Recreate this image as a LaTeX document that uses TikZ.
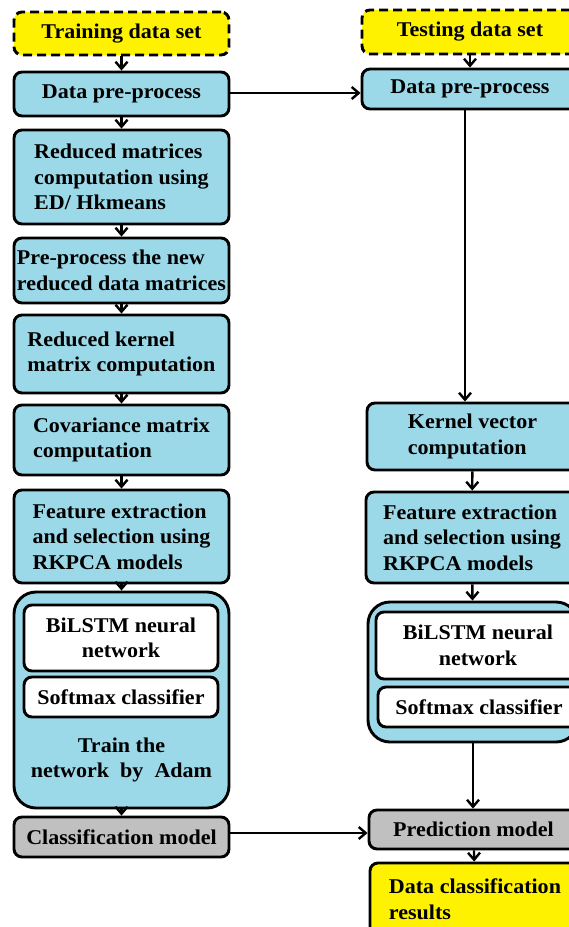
\documentclass[tikz,border=0pt]{standalone}
\usepackage{fontspec}
\setmainfont{Liberation Serif}[FakeStretch=1.05]
\usetikzlibrary{arrows.meta, positioning}

\definecolor{procblue}{RGB}{155,216,232}
\definecolor{datayellow}{RGB}{255,242,0}
\definecolor{modelgray}{RGB}{192,192,192}

\begin{document}
\begin{tikzpicture}[
    x=1pt, y=-1pt,
    % Process step: light blue rounded box
    proc/.style={
        rectangle, rounded corners=8pt, draw=black, line width=2.9pt,
        fill=procblue, inner sep=2pt, align=center,
        font=\fontsize{21}{25.5}\selectfont\bfseries
    },
    % Data set / result: yellow
    dset/.style={proc, fill=datayellow},
    % Model box: gray
    mdl/.style={proc, fill=modelgray},
    % Network container: large rounded box
    netbox/.style={proc, rounded corners=22pt},
    % Inner network part: white box
    part/.style={proc, fill=white},
    % Flow arrow
    flow/.style={line width=2.4pt, -{Straight Barb[length=7pt, width=12pt, line width=2.4pt]}},
]
\useasboundingbox (0,0) rectangle (569,927);

% ============================================================
% LEFT COLUMN: training
% ============================================================
\node[dset, dash pattern=on 9pt off 5pt, minimum width=215pt, minimum height=43pt]
    (train) at (121.5, 33.5) {Training data set};
\node[proc, minimum width=215pt, minimum height=44pt] (preL) at (121.5, 94) {Data pre-process};
\node[proc, align=left, minimum width=215pt, minimum height=94pt] (redL) at (121.5, 177)
    {Reduced matrices\\computation using\\ED/ Hkmeans};
\node[proc, align=left, minimum width=215pt, minimum height=65pt] (newL) at (121.5, 270.5)
    {Pre-process the new\\reduced data matrices};
\node[proc, align=left, minimum width=215pt, minimum height=78pt] (kerL) at (121.5, 354)
    {Reduced kernel\\matrix computation};
\node[proc, align=left, minimum width=215pt, minimum height=70pt] (covL) at (121.5, 440)
    {Covariance matrix\\computation};
\node[proc, align=left, minimum width=215pt, minimum height=93pt] (featL) at (121.5, 536.5)
    {Feature extraction\\and selection using\\RKPCA models};

% Network block (training)
\node[netbox, minimum width=215pt, minimum height=216pt] (bigL) at (121.5, 700) {};
\node[part, minimum width=194pt, minimum height=66pt] (bilL) at (121, 638) {BiLSTM neural\\network};
\node[part, minimum width=194pt, minimum height=40pt] (softL) at (121, 697) {Softmax classifier};
\node[font=\fontsize{21}{25.5}\selectfont\bfseries, align=center] (adam) at (121.5, 760)
    {Train the\\network~ by~ Adam};

\node[mdl, minimum width=215pt, minimum height=40pt] (classL) at (121.5, 837) {Classification model};

% ============================================================
% RIGHT COLUMN: testing
% ============================================================
\node[dset, dash pattern=on 9pt off 5pt, minimum width=216pt, minimum height=44pt]
    (test) at (470, 32) {Testing data set};
\node[proc, minimum width=216pt, minimum height=40pt] (preR) at (470, 89) {Data pre-process};
\node[proc, align=left, minimum width=211pt, minimum height=67pt] (kerR) at (472.5, 436.5)
    {Kernel vector\\computation};
\node[proc, align=left, minimum width=212pt, minimum height=91pt] (featR) at (472, 537.5)
    {Feature extraction\\and selection using\\RKPCA models};

% Network block (testing)
\node[netbox, minimum width=210pt, minimum height=140pt] (bigR) at (473, 672) {};
\node[part, minimum width=204pt, minimum height=67pt] (bilR) at (478, 645.5) {BiLSTM neural\\network};
\node[part, minimum width=202pt, minimum height=40pt] (softR) at (479, 707) {Softmax classifier};

\node[mdl, minimum width=209pt, minimum height=39pt] (predR) at (473.5, 829.5) {Prediction model};
\node[dset, align=left, minimum width=210pt, minimum height=72pt] (resR) at (475, 899)
    {Data classification\\results};

% ============================================================
% ARROWS
% ============================================================
% Left chain
\draw[flow] (train)  -- (preL);
\draw[flow] (preL)   -- (redL);
\draw[flow] (redL)   -- (newL);
\draw[flow] (newL)   -- (kerL);
\draw[flow] (kerL)   -- (covL);
\draw[flow] (covL)   -- (featL);
\draw[flow] (featL)  -- (bigL);
\draw[flow] (bigL)   -- (classL);

% Right chain
\draw[flow] (test)   -- (preR);
\draw[flow] ([xshift=-5pt]preR.south) -- ([xshift=-5pt]preR.south |- kerR.north);
\draw[flow] (kerR)   -- (featR);
\draw[flow] (featR)  -- (bigR);
\draw[flow] (bigR.south) -- (bigR.south |- predR.north);
\draw[flow] (predR)  -- (resR);

% Across
\draw[flow] ([yshift=1pt]preL.east) -- ([yshift=1pt]preL.east -| preR.west);
\draw[flow] ([yshift=4pt]classL.east) -- ([yshift=4pt]classL.east -| predR.west);

\end{tikzpicture}
\end{document}
